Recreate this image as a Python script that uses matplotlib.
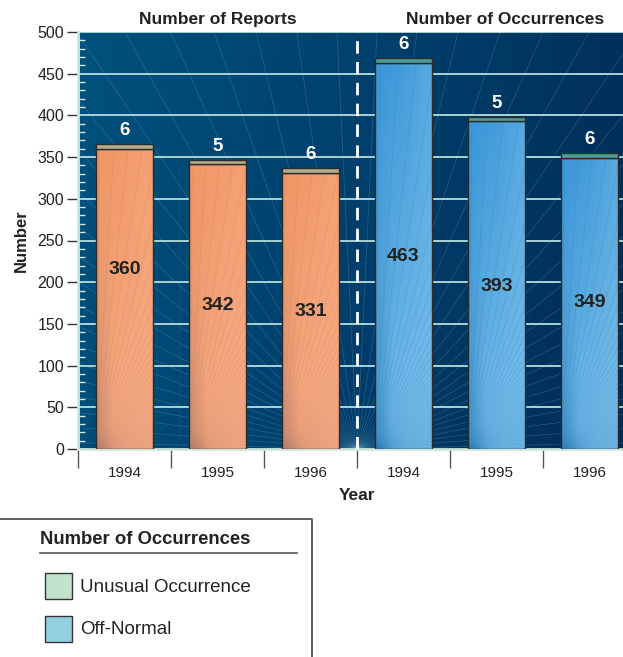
import numpy as np
import matplotlib
matplotlib.use("Agg")
import matplotlib.pyplot as plt
from matplotlib.patches import Rectangle
from matplotlib.colors import LinearSegmentedColormap, to_rgb

plt.rcParams['font.family'] = ['Liberation Sans', 'DejaVu Sans']

# ---- data ----
groups = ["Number of Reports", "Number of Occurrences"]
years = ["1994", "1995", "1996", "1994", "1995", "1996"]
off_normal = [360, 342, 331, 463, 393, 349]
unusual = [6, 5, 6, 6, 5, 6]
# height at which each off-normal count is written inside its bar
label_y = [215, 172, 165, 231, 195, 176]

W, H = 623, 657
fig = plt.figure(figsize=(W / 100, H / 100), dpi=100)

# plot area (right side runs past the figure edge)
x0, x1 = 78, 636
y0, y1 = 449, 32
ax = fig.add_axes([x0 / W, 1 - y0 / H, (x1 - x0) / W, (y0 - y1) / H])
ax.set_xlim(0, 6)
ax.set_ylim(0, 500)

# gradient backdrop
gx = np.linspace(0, 1, 300)
gy = np.linspace(0, 1, 200)
GX, GY = np.meshgrid(gx, gy)
bg_cmap = LinearSegmentedColormap.from_list("bg", ["#00517f", "#003f6c", "#002b55"])
ax.imshow(np.clip(GX * 0.85 + (1 - GY) * 0.12, 0, 1), extent=[0, 6, 0, 500],
          origin="lower", aspect="auto", cmap=bg_cmap, zorder=0)

# fan of fine lines behind the bars
for a in np.linspace(0.03, np.pi - 0.03, 44):
    ax.plot([3, 3 + 12 * np.cos(a)], [0, 1000 * np.sin(a)], color="#8cc6e0",
            lw=0.45, alpha=0.28, zorder=1)

# horizontal grid
for v in range(50, 501, 50):
    ax.axhline(v, color="#a9d3d3", lw=1.4, zorder=2)

bar_w = 0.62
xs = np.arange(6) + 0.5
# (top, bottom, left-edge shade, right side highlight)
body = {"o": ("#f29866", "#f6ab84", "#b8806a", "#f7a77c"),
        "b": ("#3c98d8", "#78bde9", "#2f7fb8", "#6ab6e8")}
cap_col = {"o": "#b0ae8e", "b": "#4e9c94"}

for i, (x, v, u) in enumerate(zip(xs, off_normal, unusual)):
    kind = "o" if i < 3 else "b"
    top_c, bot_c, edge_c, hi_c = body[kind]
    left = x - bar_w / 2
    bx = np.linspace(0, 1, 60)
    by = np.linspace(0, 1, 120)
    BX, BY = np.meshgrid(bx, by)
    # body: vertical shade, lighter towards the right, darker left foot
    t = np.clip(BY * 0.85 - BX * 0.35 + 0.2, 0, 1)[..., None]
    rgb = np.array(to_rgb(bot_c)) * (1 - t) + np.array(to_rgb(top_c)) * t
    hi = np.clip((BX - 0.5) * 2, 0, 1)[..., None] * 0.35
    rgb = rgb * (1 - hi) + np.array(to_rgb(hi_c)) * hi
    ax.imshow(rgb, extent=[left, left + bar_w, 0, v], origin="lower",
              aspect="auto", zorder=3)
    shade = np.zeros((120, 60, 4))
    shade[..., :3] = to_rgb(edge_c)
    shade[..., 3] = np.clip(1 - BX / 0.3, 0, 1) * (1 - BY) ** 1.5 * 0.75
    ax.imshow(shade, extent=[left, left + bar_w, 0, v], origin="lower",
              aspect="auto", zorder=3.1)
    # fine fan lines inside the bar
    for a in np.linspace(0.01, np.pi / 2 - 0.01, 45):
        ln, = ax.plot([left, left + 10 * np.cos(a)], [0, 10 * 500 / 6 * np.sin(a)],
                      color=edge_c, lw=0.4, alpha=0.4, zorder=3.2)
        ln.set_clip_path(Rectangle((left, 0), bar_w, v, transform=ax.transData))
    ax.add_patch(Rectangle((left, 0), bar_w, v, fill=False, ec="#2b2b2b",
                           lw=1.0, zorder=4))
    ax.add_patch(Rectangle((left, v), bar_w, u, fc=cap_col[kind], ec="#2b2b2b",
                           lw=1.0, zorder=4))
    ax.text(x, v + u + 6, str(u), ha="center", va="bottom", color="white",
            fontsize=13.5, fontweight="bold", zorder=5)
    ax.text(x, label_y[i], str(v), ha="center", va="center", color="#222222",
            fontsize=14, fontweight="bold", zorder=5)

# divider between the two groups
ax.axvline(3, color="white", lw=2, ls=(0, (4.5, 3)), zorder=4.5)

# axes styling
for s in ["top", "right"]:
    ax.spines[s].set_visible(False)
for s in ["left", "bottom"]:
    ax.spines[s].set_color("#cfe6dc")
    ax.spines[s].set_linewidth(2)
ax.set_yticks(range(0, 501, 50))
ax.set_yticks(range(0, 501, 10), minor=True)
ax.tick_params(axis="y", which="major", direction="out", length=8, width=1,
               color="#333333", labelsize=11.5, pad=2, labelcolor="#222222")
ax.tick_params(axis="y", which="minor", direction="in", length=5, width=1,
               color="#cfe6dc")
ax.set_xticks(np.arange(7))
ax.set_xticklabels([])
ax.set_xticks(xs, minor=True)
ax.set_xticklabels(years, minor=True)
ax.tick_params(axis="x", which="major", direction="out", length=14, width=1,
               color="#555555")
ax.tick_params(axis="x", which="minor", length=0, labelsize=11, pad=12,
               labelcolor="#222222")
ax.set_xlabel("Year", fontsize=12.5, fontweight="bold", labelpad=6, color="#222222")
ax.set_ylabel("Number", fontsize=12, fontweight="bold", labelpad=6, color="#222222")

# group headings
ax.text(1.5, 506, groups[0], ha="center", va="bottom", fontsize=12.5,
        fontweight="bold", color="#222222")
ax.text(4.59, 506, groups[1], ha="center", va="bottom", fontsize=12.5,
        fontweight="bold", color="#222222")

# legend panel
lg = fig.add_axes([0, 0, 1, 1], facecolor="none")
lg.set_xlim(0, W)
lg.set_ylim(H, 0)
lg.axis("off")
lg.plot([0, 312, 312], [519, 519, H + 5], color="#444444", lw=1.2)
lg.text(40, 539, "Number of Occurrences", fontsize=13.3, fontweight="bold",
        va="center", color="#222222")
lg.plot([40, 297], [553, 553], color="#555555", lw=1.2)
lg.add_patch(Rectangle((45, 573), 27, 26, fc="#c3e2cb", ec="#333333", lw=1))
lg.text(80, 588, "Unusual Occurrence", fontsize=13.5, va="center", color="#222222")
lg.add_patch(Rectangle((45, 616), 27, 26, fc="#93d0df", ec="#333333", lw=1))
lg.text(80, 630, "Off-Normal", fontsize=13.5, va="center", color="#222222")

fig.savefig("out.png", dpi=100)
